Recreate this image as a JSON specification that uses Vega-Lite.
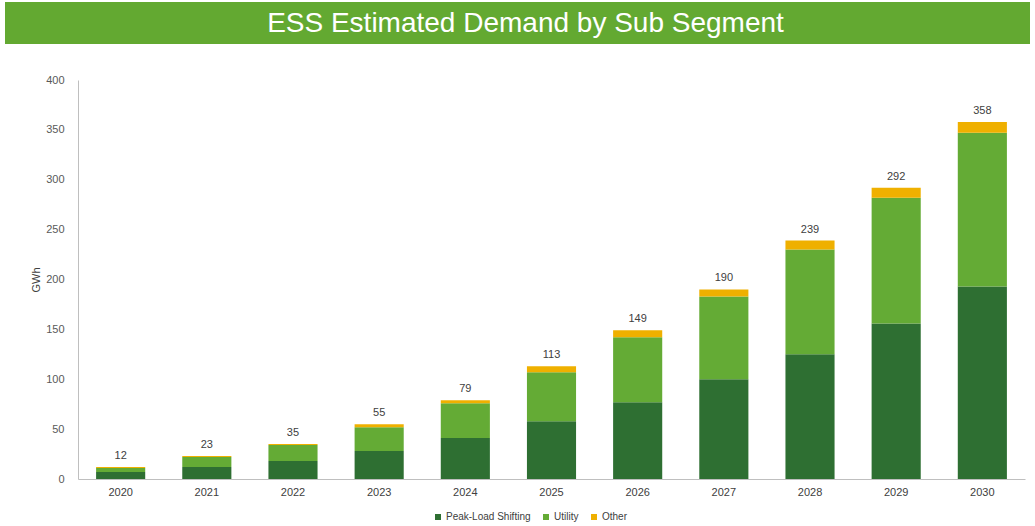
{
  "$schema": "https://vega.github.io/schema/vega-lite/v6.json",
  "background": "white",
  "padding": {"left": 5, "right": 5, "top": 2, "bottom": 0},
  "config": {"view": {"stroke": null}, "font": "Liberation Sans"},
  "spacing": 30,
  "vconcat": [
    {
      "width": 1025,
      "height": 42,
      "view": {"fill": "#63a931", "stroke": null},
      "data": {"values": [{"t": "ESS Estimated Demand by Sub Segment"}]},
      "mark": {"type": "text", "color": "white", "font": "Liberation Sans", "fontSize": 28, "dx": 8, "baseline": "middle", "dy": 1},
      "encoding": {"text": {"field": "t"}}
    },
    {
      "width": 1020,
      "height": 399,
      "data": {"values": [
        {"year": "2020", "segment": "Peak-Load Shifting", "value": 7},
        {"year": "2020", "segment": "Utility", "value": 4},
        {"year": "2020", "segment": "Other", "value": 1},
        {"year": "2021", "segment": "Peak-Load Shifting", "value": 12},
        {"year": "2021", "segment": "Utility", "value": 10},
        {"year": "2021", "segment": "Other", "value": 1},
        {"year": "2022", "segment": "Peak-Load Shifting", "value": 18},
        {"year": "2022", "segment": "Utility", "value": 16},
        {"year": "2022", "segment": "Other", "value": 1},
        {"year": "2023", "segment": "Peak-Load Shifting", "value": 28},
        {"year": "2023", "segment": "Utility", "value": 24},
        {"year": "2023", "segment": "Other", "value": 3},
        {"year": "2024", "segment": "Peak-Load Shifting", "value": 41},
        {"year": "2024", "segment": "Utility", "value": 35},
        {"year": "2024", "segment": "Other", "value": 3},
        {"year": "2025", "segment": "Peak-Load Shifting", "value": 58},
        {"year": "2025", "segment": "Utility", "value": 49},
        {"year": "2025", "segment": "Other", "value": 6},
        {"year": "2026", "segment": "Peak-Load Shifting", "value": 77},
        {"year": "2026", "segment": "Utility", "value": 65},
        {"year": "2026", "segment": "Other", "value": 7},
        {"year": "2027", "segment": "Peak-Load Shifting", "value": 100},
        {"year": "2027", "segment": "Utility", "value": 83},
        {"year": "2027", "segment": "Other", "value": 7},
        {"year": "2028", "segment": "Peak-Load Shifting", "value": 125},
        {"year": "2028", "segment": "Utility", "value": 105},
        {"year": "2028", "segment": "Other", "value": 9},
        {"year": "2029", "segment": "Peak-Load Shifting", "value": 156},
        {"year": "2029", "segment": "Utility", "value": 126},
        {"year": "2029", "segment": "Other", "value": 10},
        {"year": "2030", "segment": "Peak-Load Shifting", "value": 193},
        {"year": "2030", "segment": "Utility", "value": 154},
        {"year": "2030", "segment": "Other", "value": 11}
      ]},
      "encoding": {
        "x": {
          "field": "year", "type": "ordinal",
          "scale": {"range": [73, 1020], "paddingInner": 0.43, "paddingOuter": 0.21},
          "axis": {"title": null, "labelAngle": 0, "labelFontSize": 11, "labelColor": "#404040", "labelPadding": 7, "ticks": false, "domainColor": "#bfbfbf", "domainWidth": 1}
        },
        "y": {
          "type": "quantitative",
          "scale": {"domain": [0, 400]},
          "axis": {"title": "GWh", "offset": -73, "titleFontSize": 11, "titleFontWeight": "normal", "titleColor": "#404040", "titlePadding": 4, "values": [0, 50, 100, 150, 200, 250, 300, 350, 400], "labelFontSize": 11, "labelColor": "#595959", "labelPadding": 14, "ticks": false, "grid": false, "domainColor": "#bfbfbf", "domainWidth": 1}
        }
      },
      "layer": [
        {
          "transform": [{"calculate": "indexof(['Peak-Load Shifting', 'Utility', 'Other'], datum.segment)", "as": "stackOrder"}],
          "mark": {"type": "bar"},
          "encoding": {
            "y": {"field": "value", "type": "quantitative", "stack": "zero"},
            "order": {"field": "stackOrder", "type": "quantitative", "sort": "ascending"},
            "color": {
              "field": "segment", "type": "nominal",
              "sort": ["Peak-Load Shifting", "Utility", "Other"],
              "scale": {"domain": ["Peak-Load Shifting", "Utility", "Other"], "range": ["#2e6f32", "#64ab35", "#efb000"]},
              "legend": {"title": null, "orient": "none", "legendX": 428, "legendY": 510, "direction": "horizontal", "symbolType": "square", "symbolSize": 36, "symbolStrokeWidth": 0, "labelFontSize": 10, "labelColor": "#404040", "labelOffset": 3, "columnPadding": 10}
            }
          }
        },
        {
          "mark": {"type": "text", "baseline": "bottom", "dy": -6, "fontSize": 11, "color": "#404040"},
          "encoding": {
            "y": {"aggregate": "sum", "field": "value", "type": "quantitative"},
            "text": {"aggregate": "sum", "field": "value", "type": "quantitative"}
          }
        }
      ]
    }
  ]
}
